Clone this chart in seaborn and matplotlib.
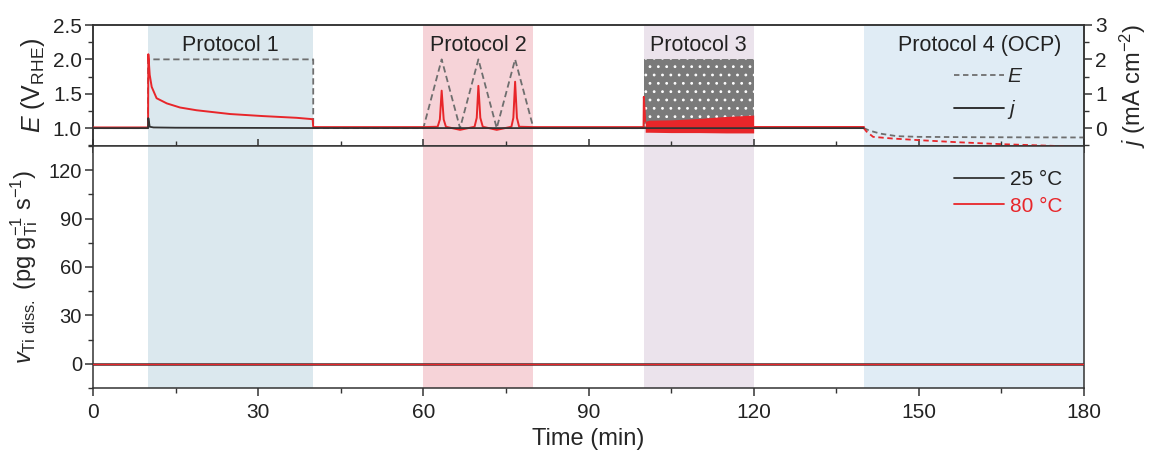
import numpy as np
import pandas as pd
import matplotlib
matplotlib.use("Agg")
import matplotlib.pyplot as plt
from matplotlib.lines import Line2D
from matplotlib.ticker import MultipleLocator, FormatStrFormatter
import seaborn as sns

# ---------------- data ----------------
# Applied potential program (V vs RHE)
pot_time = [0, 10, 10, 40, 40, 60, 63.33, 66.67, 70, 73.33, 76.67, 80, 100]
pot_E = [1.0, 1.0, 2.0, 2.0, 1.0, 1.0, 2.0, 1.0, 2.0, 1.0, 2.0, 1.0, 1.0]
hold_time = [120, 140]
hold_E = [1.0, 1.0]
# Protocol 3 square-wave envelope
sq_time = [100, 120]
sq_low = [1.0, 1.0]
sq_high = [2.0, 2.0]

# Open-circuit potential (Protocol 4)
ocp25_time = [140, 141, 143, 146, 150, 160, 170, 180]
ocp25_E = [1.0, 0.965, 0.92, 0.883, 0.873, 0.868, 0.866, 0.864]
ocp80_time = [140, 140.5, 141.7, 145, 150, 157, 165, 174.4, 180]
ocp80_E = [1.0, 0.95, 0.873, 0.85, 0.825, 0.795, 0.767, 0.742, 0.72]

# Current density (mA cm-2)
j25_time = [0, 10, 10.05, 10.3, 11, 15, 25, 40, 40, 100, 120, 140]
j25 = [0.0, 0.0, 0.29, 0.04, 0.02, 0.012, 0.008, 0.005, 0.0, 0.0, 0.0, 0.0]

j80_time = [0, 10, 10.05, 10.3, 10.66, 11.55, 13.4, 15.8, 18.8, 24.9, 30.9, 37, 39.9,
            40, 60, 62.6, 63.0, 63.33, 63.7, 64.1, 66.67, 69.3, 69.7, 70.0, 70.35, 70.8,
            73.33, 76.0, 76.35, 76.67, 77.0, 77.4, 80, 100, 100.05, 100.3]
j80 = [0.02, 0.02, 2.15, 1.55, 1.2, 0.87, 0.72, 0.6, 0.52, 0.41, 0.35, 0.30, 0.26,
       0.03, 0.03, 0.04, 0.25, 1.09, 0.25, 0.04, -0.05, 0.04, 0.3, 1.23, 0.3, 0.04,
       -0.05, 0.04, 0.3, 1.35, 0.3, 0.04, 0.03, 0.03, 0.91, 0.2]
j80_tail_time = [120, 140]
j80_tail = [0.04, 0.04]
# Protocol 3 current envelope at 80 °C
band_time = [100.3, 101, 105, 110, 115, 120]
band_low = [-0.12, -0.12, -0.13, -0.13, -0.14, -0.14]
band_high = [0.2, 0.23, 0.24, 0.28, 0.34, 0.38]

# Ti dissolution rate (pg gTi-1 s-1)
v_time = [0, 180]
v25 = [0.0, 0.0]
v80 = [0.0, 0.0]

protocols = [(10, 40, "#dbe8ee", "Protocol 1"),
             (60, 80, "#f6d3d8", "Protocol 2"),
             (100, 120, "#ebe3ec", "Protocol 3"),
             (140, 180, "#e0ecf5", "Protocol 4 (OCP)")]

RED = "#e8262a"
DARK = "#333333"
GREY = "#6e6e6e"

# ---------------- style ----------------
sns.set_theme(style="ticks")
plt.rcParams["font.family"] = ["Liberation Sans", "DejaVu Sans"]
plt.rcParams["mathtext.fontset"] = "custom"
plt.rcParams["mathtext.rm"] = "Liberation Sans"
plt.rcParams["mathtext.it"] = "Liberation Sans:italic"
plt.rcParams["axes.edgecolor"] = "#333333"
plt.rcParams["axes.linewidth"] = 1.1
plt.rcParams["hatch.linewidth"] = 0.8

fig = plt.figure(figsize=(11.64, 4.63), dpi=100)
L, R = 93 / 1164, 1084 / 1164
axE = fig.add_axes([L, 1 - 146 / 463, R - L, (146 - 25) / 463])
axV = fig.add_axes([L, 1 - 388 / 463, R - L, (388 - 146) / 463], sharex=axE)
axJ = axE.twinx()

for t0, t1, c, name in protocols:
    axE.axvspan(t0, t1, color=c, lw=0, zorder=0)
    axV.axvspan(t0, t1, color=c, lw=0, zorder=0)
    axE.text((t0 + t1) / 2 + (1 if t0 == 140 else 0), 2.2, name, ha="center", va="center",
             fontsize=15.5, color="#222222", zorder=5)

# potential program
pot = pd.DataFrame({"t": pot_time, "E": pot_E, "seg": 0})
hold = pd.DataFrame({"t": hold_time, "E": hold_E, "seg": 1})
sns.lineplot(data=pd.concat([pot, hold]), x="t", y="E", units="seg", estimator=None,
             sort=False, ax=axE, color=GREY, linestyle=(0, (3.5, 2)), lw=1.3, zorder=3)
axE.fill_between(sq_time, sq_low, sq_high, facecolor="#7a7a7a", edgecolor="white",
                 hatch="..", lw=0, zorder=2)
sns.lineplot(x=ocp25_time, y=ocp25_E, ax=axE, color=GREY, linestyle=(0, (3, 2)), lw=1.3,
             zorder=3)
sns.lineplot(x=ocp80_time, y=ocp80_E, ax=axE, color=RED, linestyle=(0, (3, 2)), lw=1.3,
             zorder=3)

# current density
axJ.fill_between(band_time, band_low, band_high, color=RED, lw=0, zorder=2)
sns.lineplot(x=j80_time, y=j80, ax=axJ, color=RED, lw=1.4, zorder=3, sort=False)
sns.lineplot(x=j80_tail_time, y=j80_tail, ax=axJ, color=RED, lw=1.4, zorder=3)
sns.lineplot(x=j25_time, y=j25, ax=axJ, color=DARK, lw=1.3, zorder=4, sort=False)

# dissolution rate
sns.lineplot(x=v_time, y=v25, ax=axV, color=DARK, lw=1.8, zorder=3)
sns.lineplot(x=v_time, y=v80, ax=axV, color=RED, lw=1.0, zorder=4)

# ---------------- axes ----------------
axE.set_xlim(0, 180)
axE.set_ylim(0.74, 2.5)
axJ.set_ylim(-0.52, 3.0)
axV.set_ylim(-15, 135)

axE.yaxis.set_major_locator(MultipleLocator(0.5))
axE.yaxis.set_minor_locator(MultipleLocator(0.25))
axJ.yaxis.set_major_locator(MultipleLocator(1))
axJ.yaxis.set_minor_locator(MultipleLocator(0.5))
axV.yaxis.set_major_locator(MultipleLocator(30))
axV.yaxis.set_minor_locator(MultipleLocator(15))
axV.xaxis.set_major_locator(MultipleLocator(30))
axV.xaxis.set_minor_locator(MultipleLocator(15))
axE.yaxis.set_major_formatter(FormatStrFormatter("%.1f"))

for a in (axE, axJ, axV):
    a.tick_params(which="major", length=6, width=1.1, color="#333333", labelsize=15,
                  labelcolor="#222222", pad=2)
    a.tick_params(which="minor", length=3.5, width=1.0, color="#333333")
axE.tick_params(axis="x", which="both", direction="inout", labelbottom=False,
                bottom=True, top=False)
axE.tick_params(axis="x", which="major", length=10)
axE.tick_params(axis="x", which="minor", length=7)
axJ.tick_params(axis="x", which="both", bottom=False, top=False, labelbottom=False)
axV.tick_params(axis="x", which="both", top=False, pad=5)
axV.tick_params(axis="y", labelsize=14.5)

for a in (axE, axJ, axV):
    for s in a.spines.values():
        s.set_visible(True)
axV.spines["top"].set_visible(False)

axE.set_xlabel("")
axE.set_ylabel("$E$ (V$_{\\mathrm{RHE}}$)", fontsize=18, labelpad=4)
axJ.set_ylabel("$j$ (mA cm$^{-2}$)", fontsize=17, labelpad=8)
axV.set_ylabel("$v_{\\mathrm{Ti\\ diss.}}$ (pg g$_{\\mathrm{Ti}}^{-1}$ s$^{-1}$)", fontsize=17,
               labelpad=6)
axV.set_xlabel("Time (min)", fontsize=17, labelpad=4)

# legends
h1 = [Line2D([], [], color=GREY, ls=(0, (3, 2)), lw=1.3),
      Line2D([], [], color="#222222", lw=1.3)]
axE.legend(h1, ["$E$", "$j$"], loc="upper left", bbox_to_anchor=(0.86, 0.72),
           frameon=False, fontsize=15, handlelength=2.4, handletextpad=0.15,
           labelspacing=0.58, borderaxespad=0)
h2 = [Line2D([], [], color=DARK, lw=1.3), Line2D([], [], color=RED, lw=1.3)]
lg2 = axV.legend(h2, ["25 °C", "80 °C"], loc="upper left", bbox_to_anchor=(0.86, 0.934),
                 frameon=False, fontsize=15, handlelength=2.4, handletextpad=0.3,
                 labelspacing=0.35, borderaxespad=0)
lg2.get_texts()[0].set_color("#222222")
lg2.get_texts()[1].set_color(RED)

axJ.set_zorder(axE.get_zorder() + 1)
axJ.patch.set_visible(False)

fig.savefig("out.png", dpi=100)
